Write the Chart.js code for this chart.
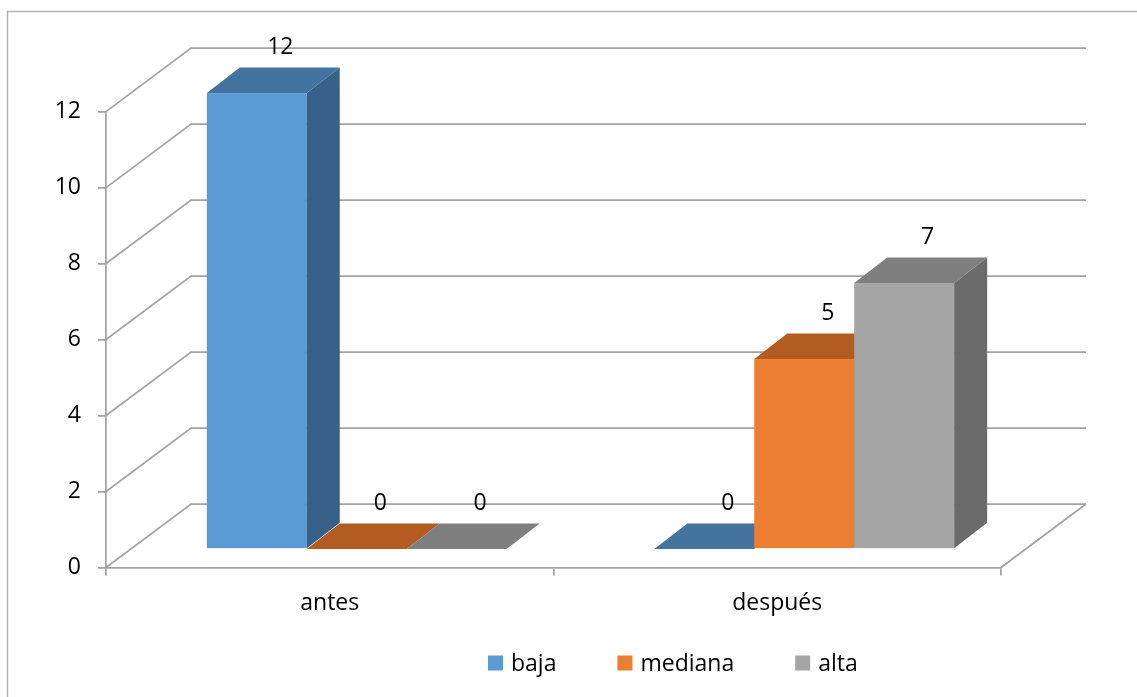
<!DOCTYPE html>
<html>
<head>
<meta charset="utf-8">
<script src="https://cdn.jsdelivr.net/npm/chart.js@4"></script>
<style>
  body { margin: 0; background: #fff; }
  canvas { display: block; }
</style>
</head>
<body>
<canvas id="chart" width="1137" height="697"></canvas>
<script>
const categories = ['antes', 'después'];
const seriesNames = ['baja', 'mediana', 'alta'];
const bajaValues = [12, 0];
const medianaValues = [0, 5];
const altaValues = [0, 7];
const yTicks = [0, 2, 4, 6, 8, 10, 12];

// front / top / side shades for each series
const faceColors = [
    { front: '#5b9bd5', top: '#43739f', side: '#386189' },
    { front: '#ed7d31', top: '#b35c22', side: '#a4521c' },
    { front: '#a5a5a5', top: '#7f7f7f', side: '#6b6b6b' }
];

const GRID = '#a3a3a3';
const WALL = { dx: 85, dy: 63.5 };   // front plane -> back wall
const BARPLANE = { dx: 27, dy: 18.5 }; // front plane -> bar front faces
const DEPTH = { dx: 33, dy: 25.5 };  // bar depth

const threeD = {
    id: 'threeD',
    beforeDraw(chart) {
        const ctx = chart.ctx;
        ctx.save();
        ctx.strokeStyle = '#b4b4b4';
        ctx.lineWidth = 1.5;
        ctx.strokeRect(7.5, 11.5, 1300, 900);
        ctx.restore();
    },
    beforeDatasetsDraw(chart) {
        const ctx = chart.ctx;
        const x = chart.scales.x, y = chart.scales.y;
        ctx.save();
        ctx.strokeStyle = GRID;
        ctx.lineWidth = 1.75;
        yTicks.forEach(v => {
            const fy = y.getPixelForValue(v);
            ctx.beginPath();
            ctx.moveTo(x.left, fy);
            ctx.lineTo(x.left + WALL.dx, fy - WALL.dy);
            ctx.lineTo(x.right + WALL.dx, fy - WALL.dy);
            ctx.stroke();
        });
        // floor right edge
        const by = y.getPixelForValue(0);
        ctx.beginPath();
        ctx.moveTo(x.right, by);
        ctx.lineTo(x.right + WALL.dx, by - WALL.dy);
        ctx.stroke();
        ctx.restore();
    },
    afterDatasetsDraw(chart) {
        const ctx = chart.ctx;
        ctx.save();
        categories.forEach((c, ci) => {
            chart.data.datasets.forEach((ds, di) => {
                const bar = chart.getDatasetMeta(di).data[ci];
                const col = faceColors[di];
                const x0 = bar.x - bar.width / 2 + BARPLANE.dx;
                const x1 = bar.x + bar.width / 2 + BARPLANE.dx;
                const yt = bar.y - BARPLANE.dy;
                const yb = bar.base - BARPLANE.dy;
                // front
                ctx.fillStyle = col.front;
                ctx.fillRect(x0, yt, x1 - x0, yb - yt);
                // side
                ctx.fillStyle = col.side;
                ctx.beginPath();
                ctx.moveTo(x1, yt);
                ctx.lineTo(x1 + DEPTH.dx, yt - DEPTH.dy);
                ctx.lineTo(x1 + DEPTH.dx, yb - DEPTH.dy);
                ctx.lineTo(x1, yb);
                ctx.closePath();
                ctx.fill();
                // top
                ctx.fillStyle = col.top;
                ctx.beginPath();
                ctx.moveTo(x0, yt);
                ctx.lineTo(x1, yt);
                ctx.lineTo(x1 + DEPTH.dx, yt - DEPTH.dy);
                ctx.lineTo(x0 + DEPTH.dx, yt - DEPTH.dy);
                ctx.closePath();
                ctx.fill();
            });
        });
        // value labels
        ctx.fillStyle = '#000';
        ctx.font = '23px "Open Sans"';
        ctx.textAlign = 'center';
        ctx.textBaseline = 'middle';
        chart.data.datasets.forEach((ds, di) => {
            chart.getDatasetMeta(di).data.forEach((bar, i) => {
                const lx = bar.x + BARPLANE.dx + DEPTH.dx / 2 + 7;
                const ly = bar.y - BARPLANE.dy - DEPTH.dy - 20;
                ctx.fillText(String(ds.data[i]), lx, ly);
            });
        });
        // legend
        ctx.font = '23px "Open Sans"';
        ctx.textAlign = 'left';
        let lx = 488;
        const ly = 663;
        seriesNames.forEach((name, i) => {
            ctx.fillStyle = faceColors[i].front;
            ctx.fillRect(lx, ly - 7.5, 15, 15);
            ctx.fillStyle = '#000';
            ctx.fillText(name, lx + 23, ly + 1);
            lx += 23 + ctx.measureText(name).width + 61;
        });
        ctx.restore();
    }
};

const mkSet = (label, data) => ({
    label: label,
    data: data,
    backgroundColor: 'rgba(0,0,0,0)',
    borderWidth: 0,
    categoryPercentage: 0.67,
    barPercentage: 1
});

new Chart(document.getElementById('chart'), {
    type: 'bar',
    data: {
        labels: categories,
        datasets: [
            mkSet(seriesNames[0], bajaValues),
            mkSet(seriesNames[1], medianaValues),
            mkSet(seriesNames[2], altaValues)
        ]
    },
    options: {
        responsive: false,
        animation: false,
        events: [],
        layout: { padding: { left: 0, top: 111.6, right: 136, bottom: 0 } },
        plugins: {
            legend: { display: false },
            tooltip: { enabled: false }
        },
        scales: {
            x: {
                afterFit: s => { s.height = 697 - 567.5; },
                grid: { offset: true, drawOnChartArea: false, tickLength: 8, color: GRID, lineWidth: 1.75 },
                border: { color: GRID, width: 1.75 },
                ticks: { color: '#000', font: { size: 23, family: '"Open Sans"' }, padding: 14 }
            },
            y: {
                min: 0,
                max: 12,
                afterFit: s => { s.width = 106; },
                afterBuildTicks: s => { s.ticks = yTicks.map(v => ({ value: v })); },
                grid: { drawOnChartArea: false, tickLength: 8, color: GRID, lineWidth: 1.75 },
                border: { color: GRID, width: 1.75 },
                ticks: { color: '#000', font: { size: 23, family: '"Open Sans"' }, padding: 17 }
            }
        }
    },
    plugins: [threeD]
});
</script>
</body>
</html>
